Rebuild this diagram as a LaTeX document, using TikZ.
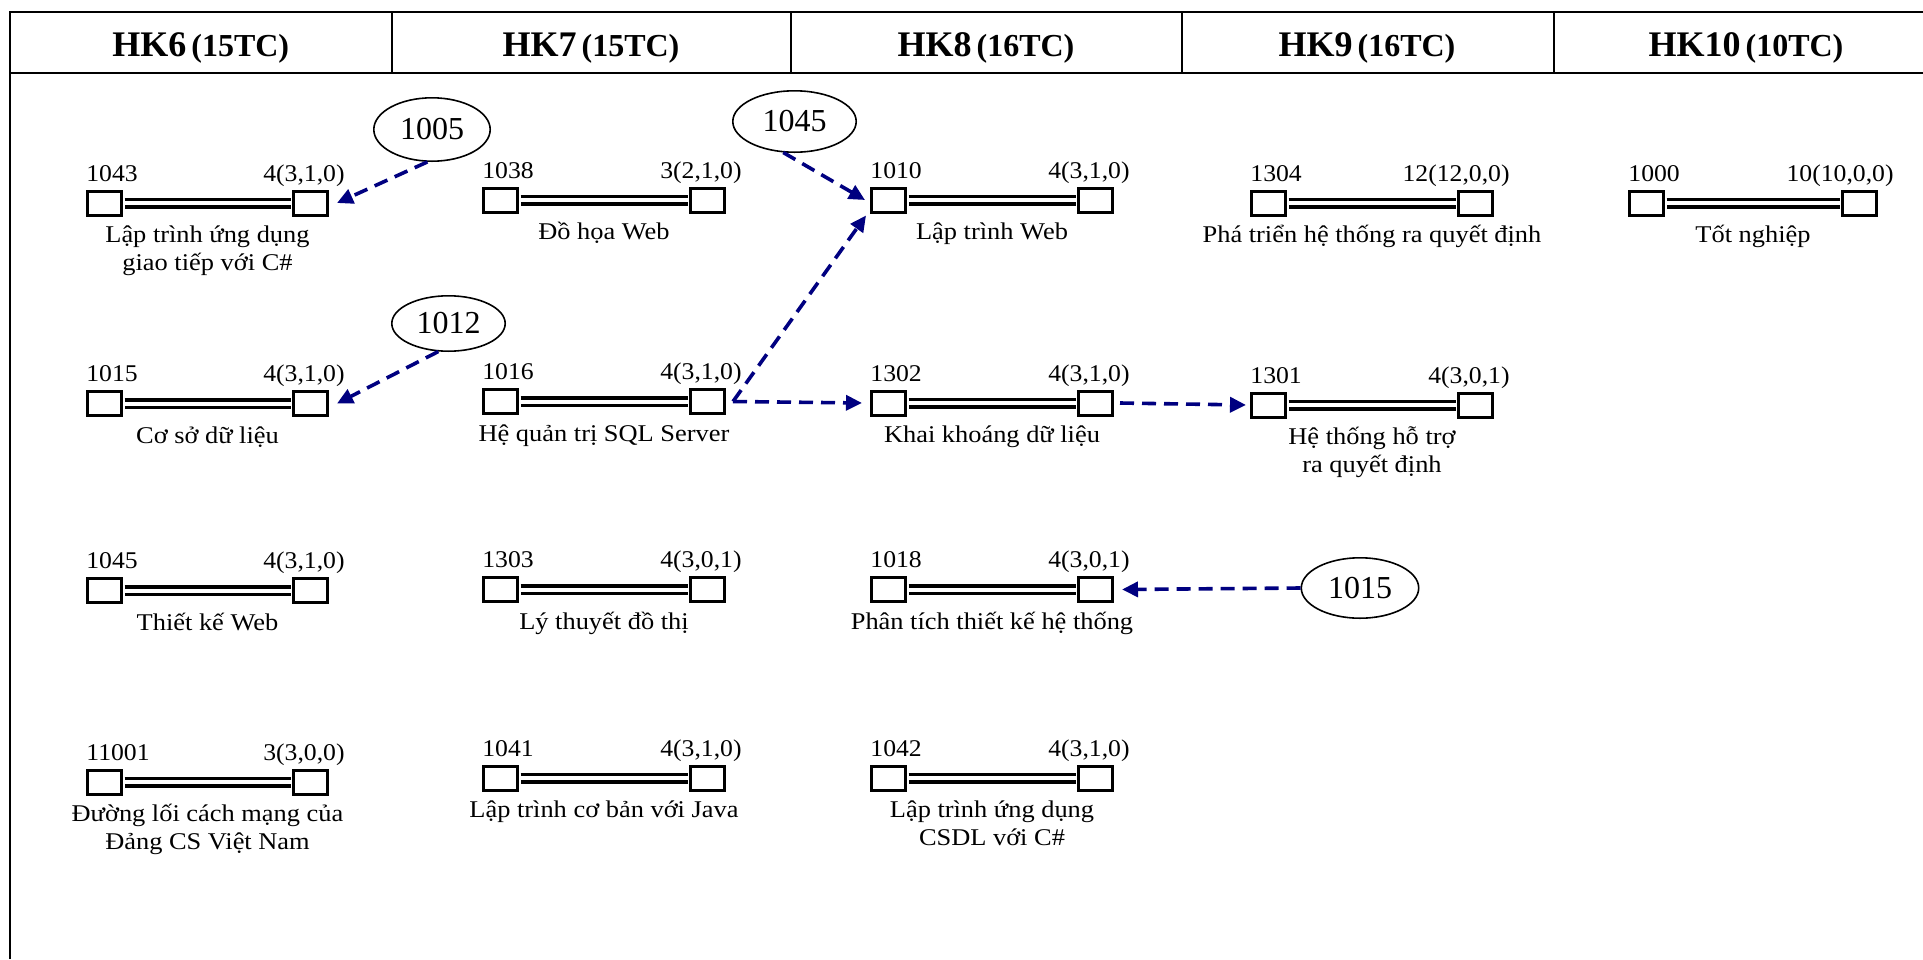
\documentclass[tikz,border=0pt]{standalone}
\usepackage{fontspec}
\setmainfont{Liberation Serif}
\newfontfamily\namefont{Liberation Serif}[FakeStretch=1.1]
\newfontfamily\codefont{Liberation Serif}[FakeStretch=1.07]
\usetikzlibrary{arrows.meta,shapes.geometric}
\definecolor{navy}{RGB}{0,0,128}
\tikzset{
  sq/.style={draw, fill=white, line width=1.5pt, minimum width=17pt, minimum height=12pt, inner sep=0pt},
  barblack/.style={line width=5.5pt, shorten <=0.75pt, shorten >=0.75pt},
  barwhite/.style={white, line width=2pt, shorten <=0.75pt, shorten >=0.75pt},
  lbl/.style={inner sep=0pt, font=\codefont\fontsize{12}{14}\selectfont},
  nm/.style={inner sep=0pt, align=center, font=\namefont\fontsize{12}{14}\selectfont},
  ell/.style={ellipse, draw, line width=0.8pt, inner sep=0pt, font=\fontsize{16}{18}\selectfont},
  dep/.style={color=navy, line width=1.8pt, dash pattern=on 7pt off 4pt, -{Triangle[length=8pt,width=7.5pt]}},
  frame/.style={line width=1pt},
  hd/.style={anchor=base, inner sep=0pt}
}
\newcommand\course[7]{%
  \node[sq] (#1l) at (#2+18.5,#3) {};
  \node[sq] (#1r) at (#2+#4-18.5,#3) {};
  \draw[barblack] (#1l.east) -- (#1r.west);
  \draw[barwhite] (#1l.east) -- (#1r.west);
  \node[lbl,anchor=base west] (#1c) at (#2,#3-22) {#5};
  \node[lbl,anchor=base east] (#1k) at (#2+#4+16,#3-22) {#6};
  \node[nm,anchor=north] (#1n) at (#2+#4/2,#3+15.5) {\rule{0pt}{12pt}#7};
}
\newcommand\hdtext[2]{{\fontsize{18}{20}\selectfont\bfseries #1} {\fontsize{16}{18}\selectfont\bfseries (#2)}}
\begin{document}
\begin{tikzpicture}[x=0.5pt,y=-0.5pt]
\useasboundingbox (0,0) rectangle (1923,959);
% frame
\draw[frame] (10,959) -- (10,12) -- (1923,12);
\draw[frame] (10,72.5) -- (1923,72.5);
\foreach \xx in {391.5,790.5,1182,1553.5} \draw[frame] (\xx,12) -- (\xx,72.5);
% headers
\node[hd] (h6) at (200.75,56) {\hdtext{HK6}{15TC}};
\node[hd] (h7) at (591,56) {\hdtext{HK7}{15TC}};
\node[hd] (h8) at (986,56) {\hdtext{HK8}{16TC}};
\node[hd] (h9) at (1367,56) {\hdtext{HK9}{16TC}};
\node[hd] (h10) at (1746,56) {\hdtext{HK10}{10TC}};
% HK6
\course{c1043}{86}{203}{243}{1043}{4(3,1,0)}{Lập trình ứng dụng\\giao tiếp với C\#}
\course{c1015}{86}{403.5}{243}{1015}{4(3,1,0)}{Cơ sở dữ liệu}
\course{c1045}{86}{590.5}{243}{1045}{4(3,1,0)}{Thiết kế Web}
\course{c11001}{86}{782}{243}{11001}{3(3,0,0)}{Đường lối cách mạng của\\Đảng CS Việt Nam}
% HK7
\course{c1038}{482}{200}{244}{1038}{3(2,1,0)}{Đồ họa Web}
\course{c1016}{482}{401.5}{244}{1016}{4(3,1,0)}{Hệ quản trị SQL Server}
\course{c1303}{482}{589.5}{244}{1303}{4(3,0,1)}{Lý thuyết đồ thị}
\course{c1041}{482}{778}{244}{1041}{4(3,1,0)}{Lập trình cơ bản với Java}
% HK8
\course{c1010}{870}{200}{244}{1010}{4(3,1,0)}{Lập trình Web}
\course{c1302}{870}{403}{244}{1302}{4(3,1,0)}{Khai khoáng dữ liệu}
\course{c1018}{870}{589.5}{244}{1018}{4(3,0,1)}{Phân tích thiết kế hệ thống}
\course{c1042}{870}{778}{244}{1042}{4(3,1,0)}{Lập trình ứng dụng\\CSDL với C\#}
% HK9
\course{c1304}{1250}{203}{244}{1304}{12(12,0,0)}{Phá triển hệ thống ra quyết định}
\course{c1301}{1250}{405}{244}{1301}{4(3,0,1)}{Hệ thống hỗ trợ\\ra quyết định}
% HK10
\course{c1000}{1628}{203}{250}{1000}{10(10,0,0)}{Tốt nghiệp}
% prerequisite ellipses
\node[ell, minimum width=58.2pt, minimum height=31.7pt] (e1005) at (432,129.5) {1005};
\node[ell, minimum width=56.7pt, minimum height=27.7pt] (e1012) at (448.5,323.5) {1012};
\node[ell, minimum width=61.7pt, minimum height=30.7pt] (e1045) at (794.5,121.5) {1045};
\node[ell, minimum width=58.7pt, minimum height=30.2pt] (e1015) at (1360,588) {1015};
% connectors
\coordinate (s1016) at ([xshift=3.5pt]c1016r.east);
\draw[dep] (e1005.262) -- ([xshift=4pt]c1043r.east);
\draw[dep] (e1012.250) -- ([xshift=4pt]c1015r.east);
\draw[dep] (e1045.250) -- ([xshift=-2.5pt]c1010l.west);
\draw[dep] (s1016) -- ([xshift=-2pt,yshift=-1pt]c1010l.south west);
\draw[dep] (s1016) -- ([xshift=-4pt]c1302l.west);
\draw[dep] ([xshift=3pt]c1302r.east) -- ([xshift=-2pt]c1301l.west);
\draw[dep] (e1015.west) -- ([xshift=4pt]c1018r.east);
\end{tikzpicture}
\end{document}
